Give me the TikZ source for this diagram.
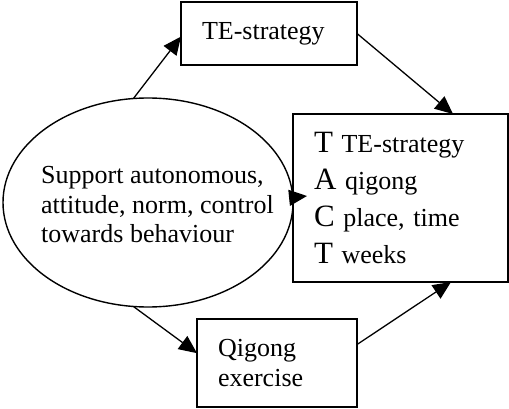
\documentclass[tikz,border=0pt]{standalone}
\usepackage{fontspec}
\setmainfont{Liberation Serif}
\usetikzlibrary{shapes.geometric,arrows.meta,calc}
\begin{document}
\begin{tikzpicture}[x=1pt,y=-1pt,
  box/.style={draw,line width=1.4pt,rectangle,inner sep=0pt,outer sep=0pt,align=left},
  arr/.style={line width=1.3pt,-{Triangle[length=18pt,width=16pt]}},
  txt/.style={font=\fontsize{26}{29.5}\selectfont},
  big/.style={font=\fontsize{31}{37}\selectfont}]
\useasboundingbox (0,0) rectangle (509,409);
\node[draw,ellipse,line width=1.4pt,inner sep=0pt,outer sep=0pt,minimum width=290pt,minimum height=209pt] (ell) at (148,202.5) {};
\node[txt,align=left,inner sep=0pt,anchor=west] (etext) at (41,205) {Support autonomous,\\attitude, norm, control\\towards behaviour};
\node[box,txt,minimum width=176pt,minimum height=63pt,text width=134pt] (te) at (269,33.5) {TE-strategy};
\node[box,font=\fontsize{26}{37}\selectfont,minimum width=215pt,minimum height=168pt,text width=173pt] (tact) at (400.5,198)
  {{\fontsize{31}{37}\selectfont T} TE-strategy\\{\fontsize{31}{37}\selectfont A} qigong\\{\fontsize{31}{37}\selectfont C} place, time\\{\fontsize{31}{37}\selectfont T} weeks};
\node[box,txt,minimum width=160pt,minimum height=88pt,text width=118pt] (qg) at (277,363) {Qigong\\exercise};
\draw[arr] (ell.98) -- (te.182);
\draw[arr] (te.east) -- (tact.58.5);
\draw[arr] (ell.262) -- (qg.173.6);
\draw[arr] (qg.13.4) -- (tact.301.5);
\draw[arr] (ell.2.6) -- ($(tact.west)+(14,-2)$);
\end{tikzpicture}
\end{document}
